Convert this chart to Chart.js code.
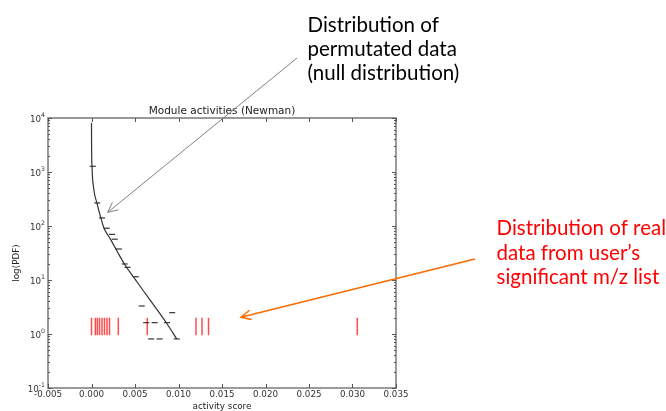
<!DOCTYPE html>
<html>
<head>
<meta charset="utf-8">
<script src="https://cdn.jsdelivr.net/npm/chart.js@4.4.0/dist/chart.umd.min.js"></script>
<style>
  html, body { margin: 0; padding: 0; background: #fff; }
  #wrap { width: 666px; height: 411px; }
</style>
</head>
<body>
<div id="wrap"><canvas id="chart" width="666" height="411"></canvas></div>
<script>
// fitted curve of the null distribution
const curveX = [0, 0.00001, 0.00006, 0.00025, 0.00063, 0.00109, 0.00144, 0.00213, 0.00297, 0.00385, 0.0048, 0.00672, 0.00864, 0.00979];
const curveY = [8200, 3200, 1250, 500, 263, 139, 91, 59, 33.4, 19, 11.5, 4.27, 1.58, 0.81];

// histogram bins of the permutated data (drawn as short dashes)
const histX = [0.00015, 0.00066, 0.00121, 0.00175, 0.00236, 0.00267, 0.00315, 0.00382, 0.00414, 0.00509, 0.00577, 0.00629, 0.00726, 0.00686, 0.00782, 0.00928, 0.00868, 0.0098];
const histY = [1276, 267, 141, 91, 70, 57, 37.5, 19.8, 17.2, 11.5, 3.3, 1.62, 1.62, 0.81, 0.81, 2.48, 1.62, 0.81];

// activity scores of the real modules (rug marks)
const realScores = [0.0000, 0.00044, 0.00067, 0.00092, 0.00121, 0.00149, 0.00178, 0.00207, 0.00308, 0.00641, 0.01201, 0.0127, 0.01345, 0.03055];
const rugLow = 0.95;
const rugHigh = 2.0;

const xTicks = [-0.005, 0, 0.005, 0.01, 0.015, 0.02, 0.025, 0.03, 0.035];
const yTicks = [0.1, 1, 10, 100, 1000, 10000];
const yTickBase = "10";
const yTickExps = ["-1", "0", "1", "2", "3", "4"];

const chartTitle = "Module activities (Newman)";
const xLabel = "activity score";
const yLabel = "log(PDF)";
const nullNote = ["Distribution of", "permutated data", "(null distribution)"];
const realNote = ["Distribution of real", "data from user’s", "significant m/z list"];

Chart.defaults.font.family = "'DejaVu Sans', sans-serif";
Chart.defaults.font.size = 8.7;
Chart.defaults.color = "#333";

function arrow(ctx, x1, y1, x2, y2, color, width) {
  const ang = Math.atan2(y2 - y1, x2 - x1);
  const len = 11, spread = Math.PI / 7;
  ctx.strokeStyle = color;
  ctx.lineWidth = width;
  ctx.beginPath();
  ctx.moveTo(x1, y1);
  ctx.lineTo(x2, y2);
  ctx.moveTo(x2 - len * Math.cos(ang - spread), y2 - len * Math.sin(ang - spread));
  ctx.lineTo(x2, y2);
  ctx.lineTo(x2 - len * Math.cos(ang + spread), y2 - len * Math.sin(ang + spread));
  ctx.stroke();
}

const decor = {
  id: "decor",
  afterDraw(chart) {
    const ctx = chart.ctx;
    const a = chart.chartArea;
    const xs = chart.scales.x;
    const ys = chart.scales.y;
    ctx.save();

    // axes frame
    ctx.strokeStyle = "#7a7a7a";
    ctx.lineWidth = 1.5;
    ctx.strokeRect(a.left, a.top, a.right - a.left, a.bottom - a.top);

    // inward ticks, matplotlib style
    ctx.lineWidth = 1;
    ctx.strokeStyle = "#555";
    ctx.beginPath();
    xTicks.forEach(v => {
      const p = Math.round(xs.getPixelForValue(v)) + 0.5;
      ctx.moveTo(p, a.bottom); ctx.lineTo(p, a.bottom - 4);
      ctx.moveTo(p, a.top); ctx.lineTo(p, a.top + 4);
    });
    for (let d = -1; d <= 4; d++) {
      for (let k = 1; k <= 9; k++) {
        const v = k * Math.pow(10, d);
        if (v > ys.max * 1.0001) continue;
        const len = k === 1 ? 4 : 2;
        const p = Math.round(ys.getPixelForValue(v)) + 0.5;
        ctx.moveTo(a.left, p); ctx.lineTo(a.left + len, p);
        ctx.moveTo(a.right, p); ctx.lineTo(a.right - len, p);
      }
    }
    ctx.stroke();

    // y tick labels as 10 with raised exponent
    ctx.fillStyle = "#333";
    ctx.textAlign = "right";
    ctx.textBaseline = "alphabetic";
    yTicks.forEach((v, i) => {
      const p = ys.getPixelForValue(v);
      ctx.font = "6.2px 'DejaVu Sans'";
      const w = ctx.measureText(yTickExps[i]).width;
      ctx.fillText(yTickExps[i], 45, p - 1.5);
      ctx.font = "8.7px 'DejaVu Sans'";
      ctx.fillText(yTickBase, 45 - w, p + 3.5);
    });

    // title and axis labels
    ctx.fillStyle = "#222";
    ctx.textAlign = "center";
    ctx.font = "10.5px 'DejaVu Sans'";
    ctx.fillText(chartTitle, (a.left + a.right) / 2, 113.5);
    ctx.font = "8.8px 'DejaVu Sans'";
    ctx.fillText(xLabel, (a.left + a.right) / 2, 409);
    ctx.save();
    ctx.translate(19, 263);
    ctx.rotate(-Math.PI / 2);
    ctx.fillText(yLabel, 0, 0);
    ctx.restore();

    // annotations
    ctx.textAlign = "left";
    ctx.font = "20.5px Lato";
    ctx.fillStyle = "#000";
    nullNote.forEach((t, i) => ctx.fillText(t, 307.5, 31.7 + i * 24.2));
    ctx.fillStyle = "#ff0000";
    realNote.forEach((t, i) => ctx.fillText(t, 496.5, 235 + i * 24.5));

    arrow(ctx, 297, 58, xs.getPixelForValue(0.00186), ys.getPixelForValue(179), "#808080", 1);
    arrow(ctx, 475, 259, xs.getPixelForValue(0.01718), ys.getPixelForValue(2.04), "#ff6a00", 1.5);

    ctx.restore();
  }
};

const datasets = [
  {
    type: "line",
    data: curveX.map((x, i) => ({ x, y: curveY[i] })),
    borderColor: "#333",
    borderWidth: 1.2,
    pointRadius: 0,
    cubicInterpolationMode: "monotone",
    fill: false
  },
  {
    type: "scatter",
    data: histX.map((x, i) => ({ x, y: histY[i] })),
    pointStyle: "line",
    pointRadius: 3,
    pointBorderColor: "#222",
    pointBorderWidth: 1.1
  }
];

realScores.forEach(s => {
  datasets.push({
    type: "line",
    data: [{ x: s, y: rugLow }, { x: s, y: rugHigh }],
    borderColor: "rgba(255,30,30,0.8)",
    borderWidth: 1.5,
    pointRadius: 0
  });
});

new Chart(document.getElementById("chart"), {
  type: "scatter",
  data: { datasets },
  options: {
    responsive: false,
    animation: false,
    events: [],
    layout: { padding: { top: 118, right: 270, bottom: 0, left: 0 } },
    plugins: { legend: { display: false }, tooltip: { enabled: false } },
    scales: {
      x: {
        type: "linear",
        min: -0.005,
        max: 0.035,
        grid: { display: false, drawTicks: false },
        border: { display: false },
        afterBuildTicks: s => { s.ticks = xTicks.map(v => ({ value: v })); },
        afterFit: s => { s.height = 23; },
        ticks: {
          padding: 2,
          maxRotation: 0,
          autoSkip: false,
          callback: v => v.toFixed(3)
        }
      },
      y: {
        type: "logarithmic",
        min: 0.1,
        max: 10000,
        grid: { display: false, drawTicks: false },
        border: { display: false },
        afterBuildTicks: s => { s.ticks = yTicks.map(v => ({ value: v })); },
        afterFit: s => { s.width = 48; },
        ticks: { display: false }
      }
    }
  },
  plugins: [decor]
});
</script>
</body>
</html>
